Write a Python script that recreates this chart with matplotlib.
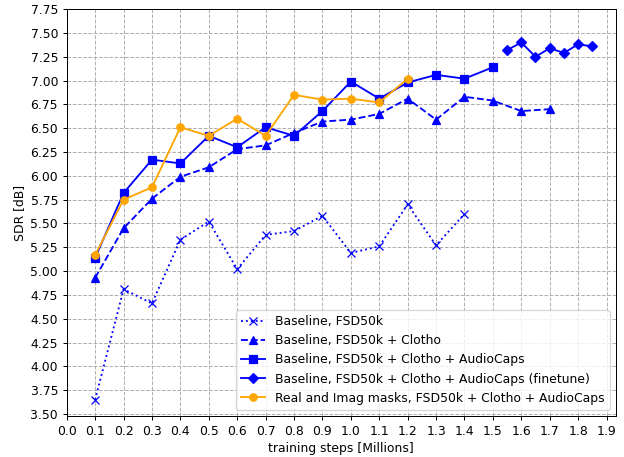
import matplotlib
matplotlib.use("Agg")
import matplotlib.pyplot as plt
import numpy as np

# x positions (millions of steps)
x_fsd = [0.1, 0.2, 0.3, 0.4, 0.5, 0.6, 0.7, 0.8, 0.9, 1.0, 1.1, 1.2, 1.3, 1.4]
y_fsd = [3.65, 4.81, 4.66, 5.33, 5.52, 5.02, 5.38, 5.42, 5.58, 5.19, 5.26, 5.70, 5.27, 5.60]

x_clotho = [0.1, 0.2, 0.3, 0.4, 0.5, 0.6, 0.7, 0.8, 0.9, 1.0, 1.1, 1.2, 1.3, 1.4, 1.5, 1.6, 1.7]
y_clotho = [4.93, 5.45, 5.76, 5.99, 6.09, 6.28, 6.32, 6.45, 6.57, 6.59, 6.65, 6.81, 6.59, 6.83, 6.79, 6.68, 6.70]

x_ac = [0.1, 0.2, 0.3, 0.4, 0.5, 0.6, 0.7, 0.8, 0.9, 1.0, 1.1, 1.2, 1.3, 1.4, 1.5]
y_ac = [5.14, 5.82, 6.17, 6.13, 6.42, 6.30, 6.51, 6.42, 6.68, 6.99, 6.81, 6.98, 7.06, 7.02, 7.14]

x_ft = [1.55, 1.6, 1.65, 1.7, 1.75, 1.8, 1.85]
y_ft = [7.32, 7.40, 7.25, 7.34, 7.29, 7.38, 7.36]

x_ri = [0.1, 0.2, 0.3, 0.4, 0.5, 0.6, 0.7, 0.8, 0.9, 1.0, 1.1, 1.2]
y_ri = [5.17, 5.75, 5.88, 6.51, 6.42, 6.60, 6.42, 6.85, 6.80, 6.81, 6.77, 7.02]

# reference looks like a default figure scaled down a bit, so render at lower dpi
dpi = 89
fig, ax = plt.subplots(figsize=(624 / dpi, 457 / dpi), dpi=dpi)

ax.plot(x_fsd, y_fsd, color="blue", linestyle=":", marker="x", label="Baseline, FSD50k")
ax.plot(x_clotho, y_clotho, color="blue", linestyle="--", marker="^", label="Baseline, FSD50k + Clotho")
ax.plot(x_ac, y_ac, color="blue", linestyle="-", marker="s", label="Baseline, FSD50k + Clotho + AudioCaps")
ax.plot(x_ft, y_ft, color="blue", linestyle="-", marker="D", label="Baseline, FSD50k + Clotho + AudioCaps (finetune)")
ax.plot(x_ri, y_ri, color="orange", linestyle="-", marker="o", label="Real and Imag masks, FSD50k + Clotho + AudioCaps")

ax.set_xticks(np.arange(0, 2.0, 0.1))
ax.set_yticks(np.arange(3.5, 7.76, 0.25))
ax.set_xlim(0, 1.933)
ax.set_ylim(3.48, 7.75)
ax.grid(True, linestyle="--", color="#b0b0b0", linewidth=0.8)
ax.set_xlabel("training steps [Millions]")
ax.set_ylabel("SDR [dB]")
ax.legend(loc="lower right")

fig.subplots_adjust(left=0.107, right=0.987, top=0.980, bottom=0.090)
fig.savefig("out.png", dpi=dpi)
